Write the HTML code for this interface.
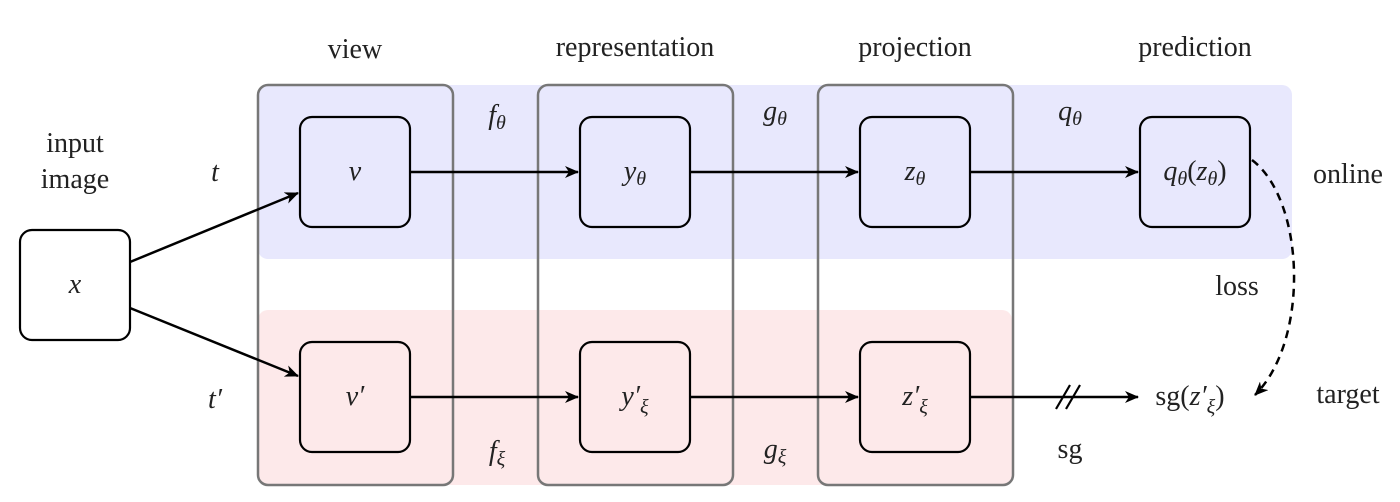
<!DOCTYPE html>
<html><head><meta charset="utf-8"><style>
html,body{margin:0;padding:0;background:#fff;}
svg{display:block;}
text{font-family:"Liberation Serif",serif;font-size:28px;fill:#222;}
.m{font-style:italic;}
</style></head><body>
<svg width="1400" height="502" viewBox="0 0 1400 502" xmlns="http://www.w3.org/2000/svg">
<defs>
<marker id="ah" markerWidth="14" markerHeight="12" refX="13" refY="6" orient="auto" markerUnits="userSpaceOnUse">
<path d="M0,0 L14,6 L0,12 L4,6 Z" fill="#000"/>
</marker>
</defs>
<rect x="258" y="85" width="1034" height="174" rx="10" fill="#e8e8fd"/>
<rect x="258" y="310" width="754" height="175" rx="10" fill="#fde9ea"/>
<g fill="none" stroke="#777" stroke-width="2.5">
<rect x="258" y="85" width="195" height="400" rx="10"/>
<rect x="538" y="85" width="195" height="400" rx="10"/>
<rect x="818" y="85" width="195" height="400" rx="10"/>
</g>
<g stroke="#000" stroke-width="2.2">
<rect x="20" y="230" width="110" height="110" rx="12" fill="#fff"/>
<rect x="300" y="117" width="110" height="110" rx="12" fill="#e8e8fd"/>
<rect x="580" y="117" width="110" height="110" rx="12" fill="#e8e8fd"/>
<rect x="860" y="117" width="110" height="110" rx="12" fill="#e8e8fd"/>
<rect x="1140" y="117" width="110" height="110" rx="12" fill="#e8e8fd"/>
<rect x="300" y="342" width="110" height="110" rx="12" fill="#fde9ea"/>
<rect x="580" y="342" width="110" height="110" rx="12" fill="#fde9ea"/>
<rect x="860" y="342" width="110" height="110" rx="12" fill="#fde9ea"/>
</g>
<g stroke="#000" stroke-width="2.5" fill="none" marker-end="url(#ah)">
<line x1="130" y1="262" x2="298" y2="193"/>
<line x1="130" y1="308" x2="298" y2="376"/>
<line x1="410" y1="172" x2="578" y2="172"/>
<line x1="690" y1="172" x2="858" y2="172"/>
<line x1="970" y1="172" x2="1138" y2="172"/>
<line x1="410" y1="397" x2="578" y2="397"/>
<line x1="690" y1="397" x2="858" y2="397"/>
<line x1="970" y1="397" x2="1138" y2="397"/>
<path d="M1252,160 C1305,200 1310,340 1255,395" stroke-dasharray="8,6"/>
</g>
<g stroke="#000" stroke-width="2.2">
<line x1="1056" y1="409" x2="1070" y2="385"/>
<line x1="1066" y1="409" x2="1080" y2="385"/>
</g>
<g text-anchor="middle">
<text x="355" y="58">view</text>
<text x="635" y="56">representation</text>
<text x="915" y="56">projection</text>
<text x="1195" y="56">prediction</text>
<text x="75" y="152">input</text>
<text x="75" y="188">image</text>
<text x="215" y="181" class="m">t</text>
<text x="215" y="408" class="m">t′</text>
<text x="75" y="293" class="m">x</text>
<text x="355" y="180" class="m">v</text>
<text x="635" y="180" class="m">y<tspan font-size="20" dy="5">θ</tspan></text>
<text x="915" y="180" class="m">z<tspan font-size="20" dy="5">θ</tspan></text>
<text x="1195" y="180" class="m">q<tspan font-size="20" dy="5">θ</tspan><tspan dy="-5" font-style="normal">(</tspan>z<tspan font-size="20" dy="5">θ</tspan><tspan dy="-5" font-style="normal">)</tspan></text>
<text x="355" y="405" class="m">v′</text>
<text x="635" y="405" class="m">y′<tspan font-size="20" dy="8">ξ</tspan></text>
<text x="915" y="405" class="m">z′<tspan font-size="20" dy="8">ξ</tspan></text>
<text x="1190" y="405">sg(<tspan class="m">z′</tspan><tspan class="m" font-size="20" dy="8">ξ</tspan><tspan dy="-8">)</tspan></text>
<text x="497" y="124" class="m">f<tspan font-size="20" dy="5">θ</tspan></text>
<text x="775" y="120" class="m">g<tspan font-size="20" dy="5">θ</tspan></text>
<text x="1070" y="120" class="m">q<tspan font-size="20" dy="5">θ</tspan></text>
<text x="497" y="460" class="m">f<tspan font-size="20" dy="5">ξ</tspan></text>
<text x="775" y="458" class="m">g<tspan font-size="20" dy="5">ξ</tspan></text>
<text x="1070" y="458">sg</text>
<text x="1348" y="183">online</text>
<text x="1348" y="403">target</text>
<text x="1237" y="295">loss</text>
</g>
</svg>
</body></html>
